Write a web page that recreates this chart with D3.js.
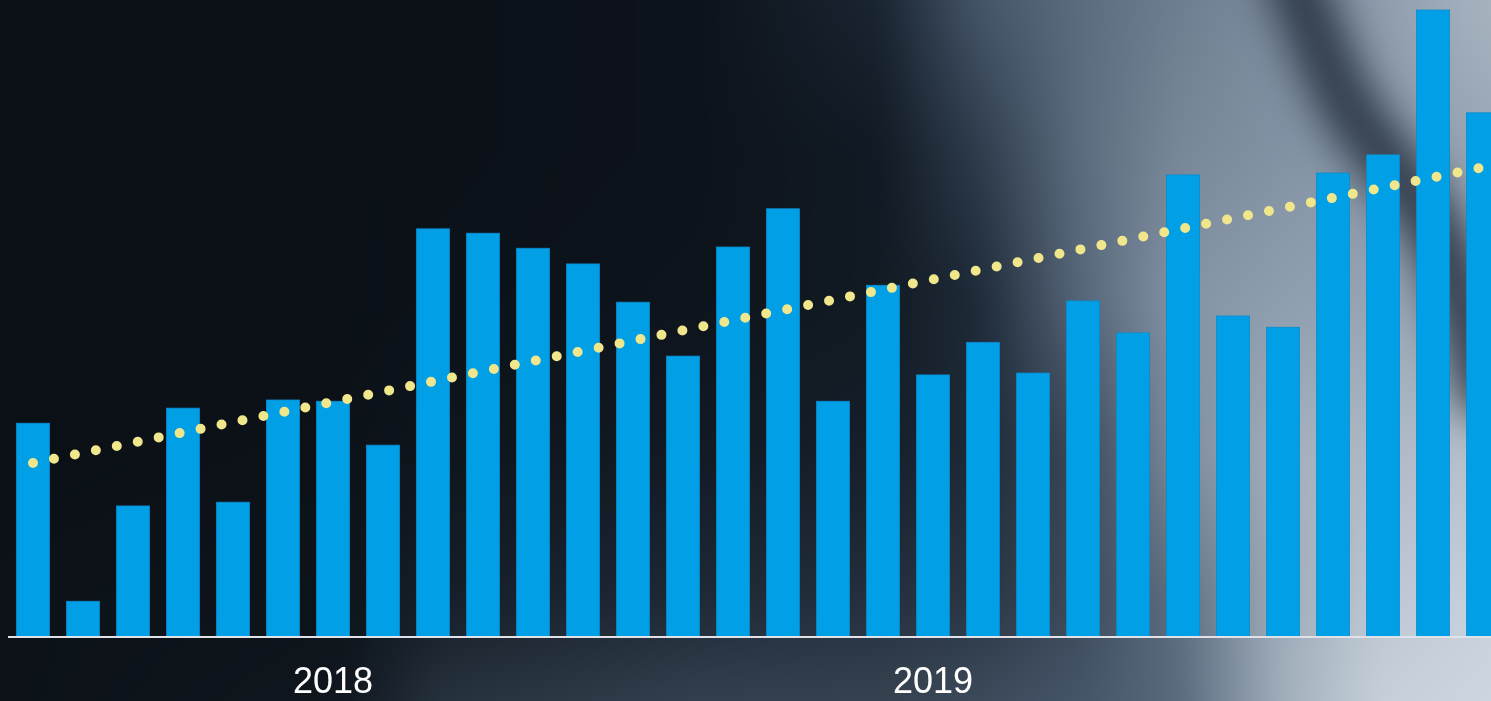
<!DOCTYPE html>
<html>
<head>
<meta charset="utf-8">
<script src="https://cdn.jsdelivr.net/npm/d3@7"></script>
<style>
  html, body { margin: 0; padding: 0; background: #0c1218; overflow: hidden; }
  #wrap { position: relative; width: 1491px; height: 701px; }
  #wrap canvas, #wrap svg { position: absolute; left: 0; top: 0; }
</style>
</head>
<body>
<div id="wrap">
  <canvas id="bg" width="1491" height="701"></canvas>
  <svg id="chart" width="1491" height="701"></svg>
</div>
<script>
// Monthly categories, January 2018 – June 2020
const months = [
  "2018-01","2018-02","2018-03","2018-04","2018-05","2018-06",
  "2018-07","2018-08","2018-09","2018-10","2018-11","2018-12",
  "2019-01","2019-02","2019-03","2019-04","2019-05","2019-06",
  "2019-07","2019-08","2019-09","2019-10","2019-11","2019-12",
  "2020-01","2020-02","2020-03","2020-04","2020-05","2020-06"
];

// Monthly values
const values = [
  34.1, 5.7, 20.9, 36.5, 21.5, 37.8, 37.6, 30.6, 65.1, 64.4, 62.0, 59.5,
  53.4, 44.8, 62.2, 68.3, 37.6, 56.1, 41.8, 47.0, 42.1, 53.6, 48.5, 73.7,
  51.2, 49.4, 74.0, 76.9, 100.0, 83.6
];

// Year labels sit under the July bar of each year
const yearTicks = ["2018-07", "2019-07"];
const yearLabels = ["2018", "2019"];

const W = 1491, H = 701;

// ---------- backdrop: soft grey-blue light falling in from the right ----------
const bgCols = [0, 340, 440, 700, 880, 980, 1080, 1180, 1280, 1380, 1491];
const bgRows = [0, 150, 300, 450, 600, 701];
const bgGrid = [
  ["#0b1017","#0b1017","#0c1118","#0d131b","#1a2532","#46566a","#5c6c80","#6e7e90","#7e8ea0","#8e9cac","#a8b4c0"],
  ["#0b1017","#0b1017","#0c1118","#0d131b","#111a24","#2e3c4c","#5c6c7e","#788898","#8292a4","#8c9cac","#98a6b4"],
  ["#0b1017","#0b1017","#0c1219","#0e141c","#111a22","#1e2a38","#56667a","#8494a6","#8e9eae","#96a4b4","#a2aebc"],
  ["#0b1017","#0c1218","#0e151c","#121a24","#161f2a","#1e2a38","#3a4858","#7d8d9f","#a2aeba","#aeb9c5","#b6c1cc"],
  ["#0c1218","#0d141a","#161f29","#1e2a36","#24303e","#2a3644","#3c4a5a","#5e6e80","#9eacb9","#bcc7d1","#c8d2dc"],
  ["#0c1218","#0f161d","#26323e","#34404e","#36424f","#3c4a5a","#46546a","#5a6a7e","#a0aebb","#c6d0da","#ccd6e0"]
];

function paintBackdrop() {
  const M = 120;
  const off = document.createElement("canvas");
  off.width = W + 2 * M; off.height = H + 2 * M;
  const octx = off.getContext("2d");
  const img = octx.createImageData(off.width, off.height);
  const rgb = bgGrid.map(r => r.map(c => d3.rgb(c)));
  const idx = d3.bisector(d => d).right;
  for (let py = 0; py < off.height; py++) {
    const y = Math.max(0, Math.min(H, py - M));
    const r = Math.min(bgRows.length - 2, Math.max(0, idx(bgRows, y) - 1));
    const ty = (y - bgRows[r]) / (bgRows[r + 1] - bgRows[r]);
    for (let px = 0; px < off.width; px++) {
      const x = Math.max(0, Math.min(W, px - M));
      const c = Math.min(bgCols.length - 2, Math.max(0, idx(bgCols, x) - 1));
      const tx = (x - bgCols[c]) / (bgCols[c + 1] - bgCols[c]);
      const a = rgb[r][c], b = rgb[r][c + 1], d = rgb[r + 1][c], e = rgb[r + 1][c + 1];
      const k = (py * off.width + px) * 4;
      const mix = (p, q, s, t) => (p * (1 - tx) + q * tx) * (1 - ty) + (s * (1 - tx) + t * tx) * ty;
      img.data[k] = mix(a.r, b.r, d.r, e.r);
      img.data[k + 1] = mix(a.g, b.g, d.g, e.g);
      img.data[k + 2] = mix(a.b, b.b, d.b, e.b);
      img.data[k + 3] = 255;
    }
  }
  octx.putImageData(img, 0, 0);

  // dark diagonal fold in the upper right
  octx.save();
  octx.filter = "blur(16px)";
  octx.strokeStyle = "rgba(34,46,60,0.9)";
  octx.lineWidth = 56;
  octx.lineCap = "round";
  const fold = d3.line().curve(d3.curveCatmullRom)([
    [1290 + M, -30 + M], [1302 + M, 0 + M], [1345 + M, 100 + M], [1392 + M, 167 + M],
    [1432 + M, 225 + M], [1462 + M, 300 + M], [1485 + M, 390 + M]
  ]);
  octx.stroke(new Path2D(fold));
  octx.restore();

  const ctx = document.getElementById("bg").getContext("2d");
  ctx.filter = "blur(14px)";
  ctx.drawImage(off, -M, -M);
  ctx.filter = "none";
}
paintBackdrop();

// ---------- chart ----------
const svg = d3.select("#chart");
const baseline = 637;

const x = d3.scaleBand()
  .domain(months)
  .range([8, 1508])
  .paddingInner(0.34)
  .paddingOuter(0.17);

const y = d3.scaleLinear()
  .domain([0, 100])
  .range([baseline, 10]);

// bars
svg.append("g")
  .selectAll("rect")
  .data(values)
  .join("rect")
  .attr("x", (d, i) => x(months[i]))
  .attr("y", d => y(d))
  .attr("width", x.bandwidth())
  .attr("height", d => baseline - y(d))
  .attr("fill", "#009fe6")
  .attr("stroke", "#0a8cce")
  .attr("stroke-width", 0.8);

// x axis
const axis = d3.axisBottom(x)
  .tickValues(yearTicks)
  .tickFormat(m => yearLabels[yearTicks.indexOf(m)])
  .tickSize(0)
  .tickPadding(30);

const gx = svg.append("g")
  .attr("transform", `translate(0,${baseline})`)
  .call(axis);

gx.select(".domain")
  .attr("d", `M8,0H${W}`)
  .attr("stroke", "#dfe3e7")
  .attr("stroke-width", 2);

gx.selectAll(".tick text")
  .attr("fill", "#ffffff")
  .attr("font-family", "'Liberation Sans', Arial, sans-serif")
  .attr("font-size", 36);

// least-squares linear trend, drawn as a dotted line
const n = values.length;
const xm = (n - 1) / 2;
const ym = d3.mean(values);
let sxy = 0, sxx = 0;
values.forEach((v, i) => { sxy += (i - xm) * (v - ym); sxx += (i - xm) * (i - xm); });
const slope = sxy / sxx;
const intercept = ym - slope * xm;
const trend = months.map((m, i) => [x(m) + x.bandwidth() / 2, y(intercept + slope * i)]);

svg.append("path")
  .attr("d", d3.line()([trend[0], trend[n - 1]]))
  .attr("fill", "none")
  .attr("stroke", "#f0e68c")
  .attr("stroke-width", 10)
  .attr("stroke-linecap", "round")
  .attr("stroke-dasharray", "0 21.38");
</script>
</body>
</html>
